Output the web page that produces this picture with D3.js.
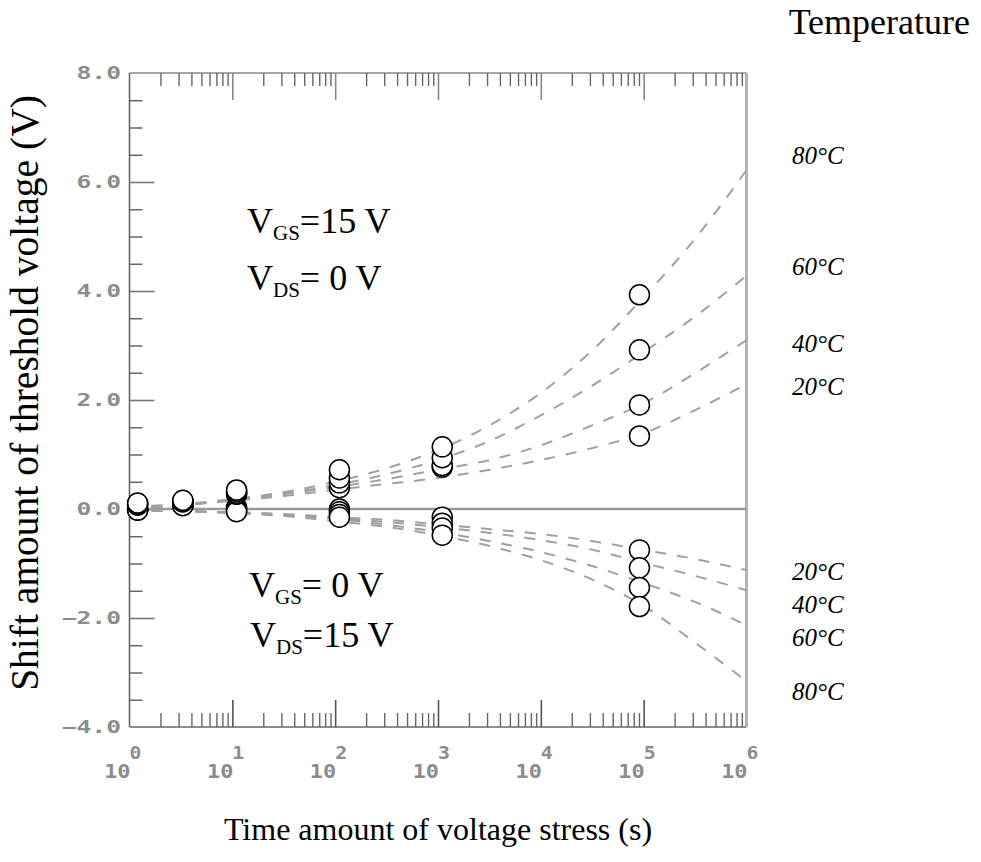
<!DOCTYPE html>
<html>
<head>
<meta charset="utf-8">
<script src="https://cdn.jsdelivr.net/npm/d3@7"></script>
<style>
  html, body { margin: 0; padding: 0; background: #fff; }
  svg { display: block; }
</style>
</head>
<body>
<svg id="chart" width="981" height="862"></svg>
<script>
// Threshold-voltage shift under gate / drain bias stress, four temperatures.

// Temperatures of the four curve families
const temperatures = ["20°C", "40°C", "60°C", "80°C"];

// Times (s) at which the dashed trend curves are sampled
const curveTimes = [1, 3.2, 10, 32, 100, 320, 1000, 3200, 1e4, 3.2e4, 1e5, 3.2e5, 1e6];

// Trend curves, VGS = 15 V / VDS = 0 V (positive shift), per temperature
const gateCurve20 = [0.02, 0.07, 0.15, 0.24, 0.35, 0.46, 0.57, 0.72, 0.90, 1.12, 1.39, 1.82, 2.29];
const gateCurve40 = [0.02, 0.07, 0.17, 0.28, 0.40, 0.55, 0.72, 0.90, 1.17, 1.54, 1.94, 2.50, 3.10];
const gateCurve60 = [0.02, 0.07, 0.17, 0.28, 0.44, 0.64, 0.90, 1.25, 1.72, 2.27, 2.88, 3.54, 4.28];
const gateCurve80 = [0.04, 0.09, 0.18, 0.31, 0.50, 0.75, 1.08, 1.54, 2.13, 2.92, 3.89, 4.97, 6.22];

// Trend curves, VGS = 0 V / VDS = 15 V (negative shift), per temperature
const drainCurve20 = [-0.02, -0.04, -0.06, -0.09, -0.15, -0.20, -0.28, -0.37, -0.46, -0.59, -0.75, -0.92, -1.12];
const drainCurve40 = [-0.02, -0.04, -0.07, -0.11, -0.17, -0.24, -0.33, -0.44, -0.57, -0.75, -0.99, -1.23, -1.49];
const drainCurve60 = [-0.02, -0.04, -0.07, -0.11, -0.18, -0.29, -0.42, -0.59, -0.79, -1.05, -1.36, -1.71, -2.13];
const drainCurve80 = [-0.02, -0.04, -0.07, -0.13, -0.22, -0.33, -0.48, -0.68, -0.94, -1.30, -1.78, -2.46, -3.16];

// Stress times (s) of the measured points
const measureTimes = [1.2, 3.3, 11, 110, 1100, 91000];

// Measured shifts, gate stress, per temperature
const gatePoints20 = [0.07, 0.13, 0.27, 0.39, 0.77, 1.34];
const gatePoints40 = [0.08, 0.14, 0.29, 0.48, 0.80, 1.91];
const gatePoints60 = [0.10, 0.15, 0.32, 0.57, 0.94, 2.92];
const gatePoints80 = [0.11, 0.16, 0.35, 0.72, 1.14, 3.93];

// Measured shifts, drain stress, per temperature
const drainPoints20 = [0.00, 0.08, 0.03, 0.00, -0.15, -0.75];
const drainPoints40 = [-0.01, 0.07, 0.00, -0.05, -0.26, -1.08];
const drainPoints60 = [-0.02, 0.07, -0.03, -0.10, -0.35, -1.44];
const drainPoints80 = [-0.02, 0.06, -0.05, -0.15, -0.48, -1.79];

// Axis ticks
const yTickValues = [8, 6, 4, 2, 0, -2, -4];
const yTickLabels = ["8.0", "6.0", "4.0", "2.0", "0.0", "\u22122.0", "\u22124.0"];
const yMinorValues = [7.5, 7, 6.5, 5.5, 5, 4.5, 3.5, 3, 2.5, 1.5, 1, 0.5, -0.5, -1, -1.5, -2.5, -3, -3.5];
const xDecades = [1, 10, 100, 1000, 10000, 100000, 1000000];
const xExponents = ["0", "1", "2", "3", "4", "5", "6"];

// Label positions (shift value) of the temperature names beside each family
const gateLabelValues = [2.25, 3.05, 4.45, 6.5];
const drainLabelValues = [-1.15, -1.75, -2.35, -3.35];

const gateCurves = [gateCurve20, gateCurve40, gateCurve60, gateCurve80];
const drainCurves = [drainCurve20, drainCurve40, drainCurve60, drainCurve80];
const gatePoints = [gatePoints20, gatePoints40, gatePoints60, gatePoints80];
const drainPoints = [drainPoints20, drainPoints40, drainPoints60, drainPoints80];

const svg = d3.select("#chart");

const x = d3.scaleLog().domain([1, 1e6]).range([129.5, 746.5]);
const y = d3.scaleLinear().domain([-4, 8]).range([727, 73]);

const xMinor = [];
for (let k = 0; k < 6; k++) for (let m = 2; m <= 9; m++) xMinor.push(m * Math.pow(10, k));

const tickGray = "#666";
const labelGray = "#8c8c8c";

// Frame: top, bottom, left, right
const frame = svg.append("g");
frame.append("line").attr("x1", x(1)).attr("x2", x(1e6)).attr("y1", y(8)).attr("y2", y(8))
  .attr("stroke", "#888").attr("stroke-width", 1.6);
frame.append("line").attr("x1", x(1)).attr("x2", x(1e6)).attr("y1", y(-4)).attr("y2", y(-4))
  .attr("stroke", "#666").attr("stroke-width", 1.6);
frame.append("line").attr("x1", x(1)).attr("x2", x(1)).attr("y1", y(8)).attr("y2", y(-4))
  .attr("stroke", "#666").attr("stroke-width", 1.6);
frame.append("line").attr("x1", x(1e6)).attr("x2", x(1e6)).attr("y1", y(8)).attr("y2", y(-4))
  .attr("stroke", "#b4b4b4").attr("stroke-width", 3);

// Tick marks drawn with d3 axes (labels drawn separately)
function ticks(axisGen, transform, width, color) {
  const g = svg.append("g").attr("transform", transform).call(axisGen);
  g.select(".domain").remove();
  g.selectAll(".tick line").attr("stroke", color).attr("stroke-width", width);
  g.selectAll(".tick text").remove();
  return g;
}
// top: ticks hanging down
ticks(d3.axisBottom(x).tickValues(xMinor).tickSize(13).tickFormat(""), `translate(0,${y(8)})`, 1.4, tickGray);
ticks(d3.axisBottom(x).tickValues(xDecades.slice(1, 6)).tickSize(27).tickFormat(""), `translate(0,${y(8)})`, 1.6, "#888");
// bottom: ticks standing up
ticks(d3.axisTop(x).tickValues(xMinor).tickSize(14).tickFormat(""), `translate(0,${y(-4)})`, 1.4, tickGray);
ticks(d3.axisTop(x).tickValues(xDecades.slice(1, 6)).tickSize(27).tickFormat(""), `translate(0,${y(-4)})`, 1.6, "#555");
// left: ticks pointing right
ticks(d3.axisRight(y).tickValues(yMinorValues).tickSize(13).tickFormat(""), `translate(${x(1)},0)`, 1.5, tickGray);
ticks(d3.axisRight(y).tickValues(yTickValues.slice(1, 6)).tickSize(25).tickFormat(""), `translate(${x(1)},0)`, 1.6, "#777");

// Y tick labels (wide plotter-style digits)
const mono = "'DejaVu Sans Mono', monospace";
svg.append("g").selectAll("g").data(yTickValues).join("g")
  .attr("transform", d => `translate(121,${y(d)}) scale(1.45,1)`)
  .append("text")
  .attr("dy", "0.36em").attr("text-anchor", "end")
  .attr("font-family", mono).attr("font-weight", "bold").attr("font-size", 17).attr("fill", labelGray)
  .text((d, i) => yTickLabels[i]);

// X tick labels: 10 with exponent
const xl = svg.append("g").selectAll("g").data(xDecades).join("g")
  .attr("transform", d => `translate(${x(d)},0)`);
xl.append("g").attr("transform", "translate(1,778) scale(1.15,1)")
  .append("text").attr("text-anchor", "end")
  .attr("font-family", mono).attr("font-weight", "bold").attr("font-size", 19).attr("fill", labelGray)
  .text("10");
xl.append("g").attr("transform", "translate(0,759) scale(1.1,1)")
  .append("text").attr("text-anchor", "start")
  .attr("font-family", mono).attr("font-weight", "bold").attr("font-size", 18).attr("fill", labelGray)
  .text((d, i) => xExponents[i]);

// Zero reference line
svg.append("line").attr("x1", x(1)).attr("x2", x(1e6)).attr("y1", y(0)).attr("y2", y(0))
  .attr("stroke", "#9a9a9a").attr("stroke-width", 2.4);

// Dashed trend curves
const line = d3.line()
  .x((d, i) => x(curveTimes[i]))
  .y(d => y(d))
  .curve(d3.curveMonotoneX);
svg.append("g").selectAll("path").data(gateCurves.concat(drainCurves)).join("path")
  .attr("d", line)
  .attr("fill", "none").attr("stroke", "#a0a0a0").attr("stroke-width", 2)
  .attr("stroke-dasharray", "11 11");

// Measured points
const pts = [];
[drainPoints, gatePoints].forEach(group => {
  group.forEach(series => series.forEach((v, i) => pts.push({ t: measureTimes[i], v })));
});
svg.append("g").selectAll("circle").data(pts).join("circle")
  .attr("cx", d => x(d.t)).attr("cy", d => y(d.v)).attr("r", 10)
  .attr("fill", "#fff").attr("stroke", "#000").attr("stroke-width", 1.5);

// Bias condition annotations
const serif = "'Liberation Serif', 'Times New Roman', serif";
function biasLabel(xp, yp, sub, rest) {
  const t = svg.append("text").attr("x", xp).attr("y", yp)
    .attr("font-family", serif).attr("font-size", 36).attr("fill", "#000");
  t.append("tspan").text("V");
  t.append("tspan").attr("font-size", 21).attr("dy", 7).text(sub);
  t.append("tspan").attr("dy", -7).text(rest);
}
biasLabel(247, 233, "GS", "=15 V");
biasLabel(247, 290, "DS", "= 0 V");
biasLabel(249, 597, "GS", "= 0 V");
biasLabel(250, 647, "DS", "=15 V");

// Temperature names beside the curves
svg.append("text").attr("x", 970).attr("y", 34).attr("text-anchor", "end")
  .attr("font-family", serif).attr("font-size", 36).attr("fill", "#000")
  .text("Temperature");
svg.append("g").selectAll("text").data(gateLabelValues.concat(drainLabelValues)).join("text")
  .attr("x", 792).attr("y", d => y(d)).attr("dy", "0.35em")
  .attr("font-family", serif).attr("font-style", "italic").attr("font-size", 25).attr("fill", "#000")
  .text((d, i) => temperatures[i % 4]);

// Axis titles
svg.append("text").attr("x", 438).attr("y", 840).attr("text-anchor", "middle")
  .attr("font-family", serif).attr("font-size", 32).attr("fill", "#000")
  .text("Time amount of voltage stress (s)");
svg.append("text").attr("transform", "translate(38,393) rotate(-90)").attr("text-anchor", "middle")
  .attr("font-family", serif).attr("font-size", 39.5).attr("fill", "#000")
  .text("Shift amount of threshold voltage (V)");
</script>
</body>
</html>
